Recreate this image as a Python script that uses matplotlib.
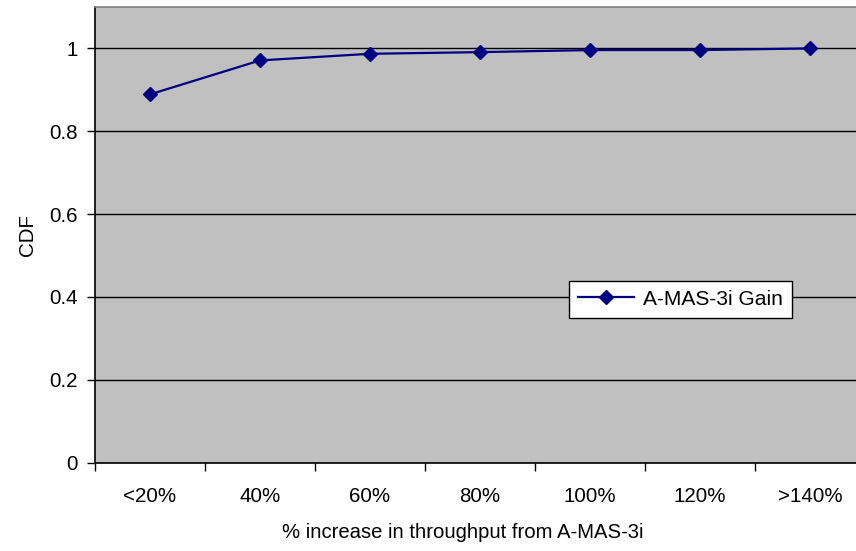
import matplotlib
matplotlib.use("Agg")
import matplotlib.pyplot as plt
from matplotlib.ticker import FixedLocator

plt.rcParams['font.family'] = ['Liberation Sans', 'DejaVu Sans']

categories = ['<20%', '40%', '60%', '80%', '100%', '120%', '>140%']
cdf_values = [0.889, 0.971, 0.987, 0.991, 0.996, 0.996, 1.0]
y_ticks = [0, 0.2, 0.4, 0.6, 0.8, 1.0]
y_tick_labels = ['0', '0.2', '0.4', '0.6', '0.8', '1']
series_name = 'A-MAS-3i Gain'

W, H = 856, 551
fig = plt.figure(figsize=(W / 100, H / 100), dpi=100)
# plot area runs past the right edge of the canvas
ax_left, ax_bottom, ax_w, ax_h = 95, 462.5, 770, 455.5
ax = fig.add_axes([ax_left / W, 1 - ax_bottom / H, ax_w / W, ax_h / H])
ax.set_facecolor('#C0C0C0')

x = list(range(len(categories)))
ax.plot(x, cdf_values, color='#000080', linewidth=1.6, marker='D',
        markersize=7.2, markerfacecolor='#000080', markeredgecolor='#000080',
        label=series_name, zorder=3)

ax.set_xlim(-0.5, len(categories) - 0.5)
ax.set_ylim(0, 1.1)

# horizontal gridlines
ax.set_yticks(y_ticks)
ax.set_yticklabels(y_tick_labels)
ax.yaxis.grid(True, color='black', linewidth=1.0)
ax.set_axisbelow(True)

# category labels centred, tick marks on the boundaries
ax.set_xticks(x)
ax.set_xticklabels(categories)
ax.xaxis.set_minor_locator(FixedLocator([i - 0.5 for i in range(len(categories) + 1)]))
ax.tick_params(axis='x', which='major', length=0, pad=17.5, labelsize=14.8)
ax.tick_params(axis='x', which='minor', length=5.5, width=1, color='black', direction='out')
ax.tick_params(axis='y', which='major', length=5.5, width=1, color='black',
               direction='out', pad=7, labelsize=14.8)

for side in ['left', 'bottom']:
    ax.spines[side].set_color('black')
    ax.spines[side].set_linewidth(1.2)
ax.spines['right'].set_visible(False)
ax.spines['top'].set_color('#808080')
ax.spines['top'].set_linewidth(1.2)

ax.set_ylabel('CDF', fontsize=14.8, labelpad=9)
ax.set_xlabel('% increase in throughput from A-MAS-3i', fontsize=14.6, labelpad=15)
ax.xaxis.set_label_coords((463 - ax_left) / ax_w, -(533 - ax_bottom) / ax_h,
                          transform=ax.transAxes)
ax.xaxis.label.set_va('center')

leg = ax.legend(loc='upper left', bbox_to_anchor=((569 - ax_left) / ax_w, 1 - (281 - 7) / ax_h),
                frameon=True, fancybox=False, edgecolor='black', facecolor='white',
                framealpha=1, fontsize=15.1, handlelength=2.7, handletextpad=0.4,
                borderpad=0.42, borderaxespad=0)
leg.get_frame().set_linewidth(1.0)

fig.savefig('out.png', dpi=100, facecolor='white')
